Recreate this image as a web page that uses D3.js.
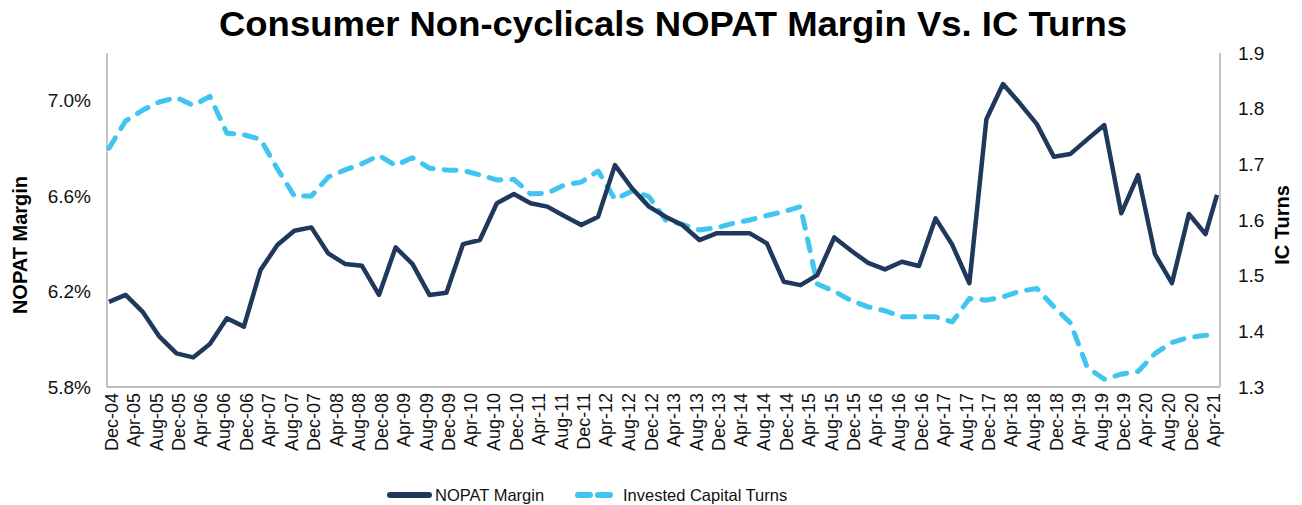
<!DOCTYPE html>
<html>
<head>
<meta charset="utf-8">
<script src="https://cdn.jsdelivr.net/npm/d3@7/dist/d3.min.js"></script>
<style>
  html, body { margin: 0; padding: 0; background: #fff; }
  svg { display: block; font-family: "Liberation Sans", Arial, sans-serif; }
</style>
</head>
<body>
<svg id="chart" width="1302" height="505"></svg>
<script>
// ---- data ----
const titleText = "Consumer Non-cyclicals NOPAT Margin Vs. IC Turns";
const seriesNames = ["NOPAT Margin", "Invested Capital Turns"];
const leftAxisTitle = "NOPAT Margin";
const rightAxisTitle = "IC Turns";

// quarterly observation dates (quarter ends Dec-04 .. Mar-21) plus latest TTM date
const quarterCount = 66;
const startYear = 2004, startMonth = 11; // Dec 2004
const lastDate = "2021-06-01";

const nopatMargin = [
  6.157, 6.186, 6.116, 6.011, 5.941, 5.924, 5.980, 6.088, 6.053, 6.290,
  6.395, 6.455, 6.469, 6.360, 6.316, 6.308, 6.186, 6.385, 6.316, 6.186,
  6.195, 6.399, 6.416, 6.570, 6.609, 6.570, 6.556, 6.517, 6.479, 6.514,
  6.730, 6.633, 6.556, 6.514, 6.479, 6.416, 6.444, 6.444, 6.444, 6.402,
  6.241, 6.227, 6.269, 6.427, 6.371, 6.320, 6.293, 6.325, 6.307, 6.507,
  6.395, 6.235, 6.922, 7.070, 6.989, 6.902, 6.765, 6.777, 6.838, 6.898,
  6.528, 6.688, 6.357, 6.235, 6.525, 6.441, 6.605
];
const icTurns = [
  1.729, 1.778, 1.797, 1.812, 1.820, 1.806, 1.822, 1.756, 1.753, 1.745,
  1.692, 1.643, 1.643, 1.677, 1.690, 1.701, 1.716, 1.698, 1.712, 1.693,
  1.690, 1.689, 1.681, 1.672, 1.673, 1.647, 1.648, 1.663, 1.668, 1.688,
  1.637, 1.652, 1.642, 1.600, 1.592, 1.582, 1.586, 1.594, 1.600, 1.608,
  1.615, 1.624, 1.485, 1.472, 1.455, 1.444, 1.437, 1.426, 1.426, 1.426,
  1.417, 1.459, 1.456, 1.462, 1.472, 1.477, 1.444, 1.415, 1.335, 1.314,
  1.323, 1.328, 1.360, 1.380, 1.389, 1.393, 1.393
];

const leftTicks = [5.8, 6.2, 6.6, 7.0];
const rightTicks = [1.3, 1.4, 1.5, 1.6, 1.7, 1.8, 1.9];
const xTickLabels = [
  "Dec-04","Apr-05","Aug-05","Dec-05","Apr-06","Aug-06","Dec-06","Apr-07","Aug-07","Dec-07",
  "Apr-08","Aug-08","Dec-08","Apr-09","Aug-09","Dec-09","Apr-10","Aug-10","Dec-10","Apr-11",
  "Aug-11","Dec-11","Apr-12","Aug-12","Dec-12","Apr-13","Aug-13","Dec-13","Apr-14","Aug-14",
  "Dec-14","Apr-15","Aug-15","Dec-15","Apr-16","Aug-16","Dec-16","Apr-17","Aug-17","Dec-17",
  "Apr-18","Aug-18","Dec-18","Apr-19","Aug-19","Dec-19","Apr-20","Aug-20","Dec-20","Apr-21"
];

// ---- build dates ----
const dates = [];
for (let i = 0; i < quarterCount; i++) {
  dates.push(new Date(startYear, startMonth + 3 * i + 1, 0)); // last day of month
}
dates.push(new Date(lastDate + "T00:00:00"));

const monthIdx = {Jan:0,Feb:1,Mar:2,Apr:3,May:4,Jun:5,Jul:6,Aug:7,Sep:8,Oct:9,Nov:10,Dec:11};
const tickDates = xTickLabels.map(l => {
  const [m, y] = l.split("-");
  return new Date(2000 + (+y), monthIdx[m] + 1, 0);
});

const rows = dates.map((d, i) => ({ date: d, nopat: nopatMargin[i], ic: icTurns[i] }));

// ---- layout ----
const svg = d3.select("#chart");
const plot = { left: 107, right: 1220, top: 53, bottom: 387 };

const x = d3.scaleTime()
  .domain([dates[0], dates[dates.length - 1]])
  .range([plot.left + 2, plot.right - 3]);
const yL = d3.scaleLinear().domain([5.8, 7.2]).range([plot.bottom, plot.top]);
const yR = d3.scaleLinear().domain([1.3, 1.9]).range([plot.bottom, plot.top]);

const navy = "#1f385c";
const sky = "#40c4f0";
const axisGray = "#a6a6a6";

// title
svg.append("text")
  .attr("x", 673).attr("y", 36)
  .attr("text-anchor", "middle")
  .attr("font-size", 35).attr("font-weight", "bold")
  .attr("fill", "#000")
  .attr("textLength", 908).attr("lengthAdjust", "spacingAndGlyphs")
  .text(titleText);

// axes frame lines
const frame = svg.append("g").attr("stroke", axisGray).attr("stroke-width", 1.3).attr("fill", "none");
frame.append("line").attr("x1", plot.left).attr("x2", plot.left).attr("y1", plot.top).attr("y2", plot.bottom);
frame.append("line").attr("x1", plot.right).attr("x2", plot.right).attr("y1", plot.top).attr("y2", plot.bottom);
frame.append("line").attr("x1", plot.left).attr("x2", plot.right).attr("y1", plot.bottom).attr("y2", plot.bottom);

// left axis labels
const leftAxis = d3.axisLeft(yL).tickValues(leftTicks).tickSize(0).tickPadding(16)
  .tickFormat(d => d3.format(".1f")(d) + "%");
svg.append("g").attr("transform", `translate(${plot.left},0)`).call(leftAxis)
  .call(g => g.select(".domain").remove())
  .call(g => g.selectAll("text").attr("font-size", 19).attr("fill", "#111")
    .attr("font-family", "Liberation Sans, Arial, sans-serif"));

// right axis labels
const rightAxis = d3.axisRight(yR).tickValues(rightTicks).tickSize(0).tickPadding(18)
  .tickFormat(d3.format(".1f"));
svg.append("g").attr("transform", `translate(${plot.right},0)`).call(rightAxis)
  .call(g => g.select(".domain").remove())
  .call(g => g.selectAll("text").attr("font-size", 19).attr("fill", "#111")
    .attr("font-family", "Liberation Sans, Arial, sans-serif"));

// x axis labels (rotated)
const xAxis = d3.axisBottom(x).tickValues(tickDates).tickSize(0).tickPadding(0)
  .tickFormat((d, i) => xTickLabels[i]);
svg.append("g").attr("transform", `translate(0,${plot.bottom})`).call(xAxis)
  .call(g => g.select(".domain").remove())
  .call(g => g.selectAll("text")
    .attr("font-size", 18).attr("fill", "#111")
    .attr("font-family", "Liberation Sans, Arial, sans-serif")
    .attr("text-anchor", "end")
    .attr("transform", "rotate(-90)")
    .attr("x", -6).attr("y", 2).attr("dy", "0.35em"));

// axis titles
svg.append("text")
  .attr("transform", `translate(27,${(plot.top + plot.bottom) / 2 + 25}) rotate(-90)`)
  .attr("text-anchor", "middle").attr("font-size", 20).attr("font-weight", "bold")
  .attr("fill", "#000").text(leftAxisTitle);
svg.append("text")
  .attr("transform", `translate(1289,${(plot.top + plot.bottom) / 2 + 5}) rotate(-90)`)
  .attr("text-anchor", "middle").attr("font-size", 20).attr("font-weight", "bold")
  .attr("fill", "#000").text(rightAxisTitle);

// lines
const icLine = d3.line().x(d => x(d.date)).y(d => yR(d.ic));
const nopatLine = d3.line().x(d => x(d.date)).y(d => yL(d.nopat));

svg.append("path").datum(rows)
  .attr("d", icLine)
  .attr("fill", "none").attr("stroke", sky).attr("stroke-width", 5)
  .attr("stroke-linecap", "round").attr("stroke-linejoin", "round")
  .attr("stroke-dasharray", "12,11");

svg.append("path").datum(rows)
  .attr("d", nopatLine)
  .attr("fill", "none").attr("stroke", navy).attr("stroke-width", 4.5)
  .attr("stroke-linejoin", "round");

// legend
const legendItems = [
  { name: seriesNames[0], color: navy, dash: null, x: 387 },
  { name: seriesNames[1], color: sky, dash: "12,8", x: 575 }
];
const lg = svg.append("g").attr("transform", "translate(0,495)");
legendItems.forEach(it => {
  lg.append("line").attr("x1", it.x + 3).attr("x2", it.x + 42).attr("y1", 0).attr("y2", 0)
    .attr("stroke", it.color).attr("stroke-width", 6).attr("stroke-linecap", "round")
    .attr("stroke-dasharray", it.dash);
  lg.append("text").attr("x", it.x + 48).attr("y", 0).attr("dy", "0.35em")
    .attr("font-size", 16.5).attr("fill", "#111").text(it.name);
});
</script>
</body>
</html>
